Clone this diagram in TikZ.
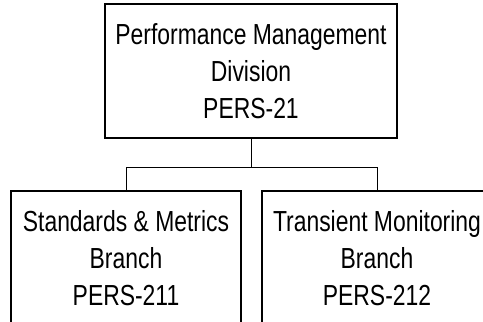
\documentclass[tikz,border=0pt]{standalone}
\usepackage{fontspec}
\setmainfont{Liberation Sans}[FakeStretch=0.79]
\usetikzlibrary{calc}
\tikzset{
  orgbox/.style={draw=black, line width=2.5pt, fill=white, align=center,
    inner sep=0pt, font=\fontsize{29}{37}\selectfont},
  link/.style={draw=black, line width=1pt}
}
\begin{document}
\begin{tikzpicture}[x=1pt,y=-1pt]
\clip (0,0) rectangle (483,322);
\fill[white] (0,0) rectangle (483,322);
\node[orgbox, minimum width=292pt, minimum height=134pt] (top) at (251,71)
  {Performance Management\\Division\\PERS-21};
\node[orgbox, minimum width=230pt, minimum height=134pt] (l) at (126,258)
  {Standards \& Metrics\\Branch\\PERS-211};
\node[orgbox, minimum width=230pt, minimum height=134pt] (r) at (377,258)
  {Transient Monitoring\\Branch\\PERS-212};
\coordinate (j) at ($(top.south)+(0,28)$);
\draw[link] (top.south) -- (j);
\draw[link] (l.north) |- (j) -| (r.north);
\end{tikzpicture}
\end{document}
